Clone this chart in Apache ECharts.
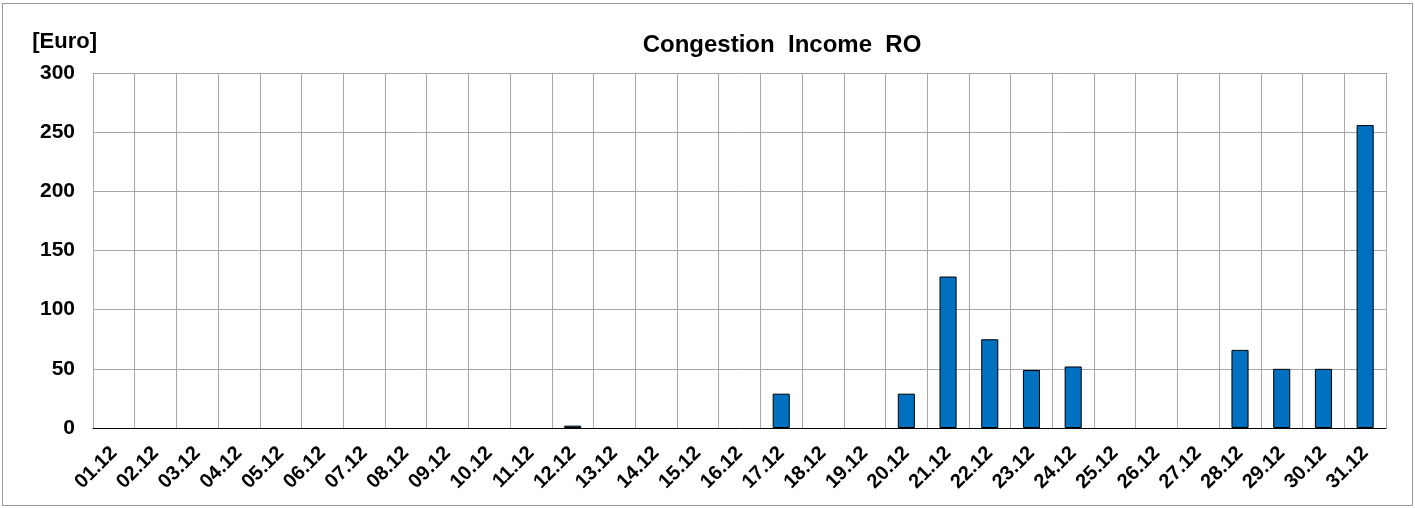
<!DOCTYPE html>
<html><head><meta charset="utf-8">
<script src="https://cdn.jsdelivr.net/npm/echarts@6/dist/echarts.min.js"></script>
<style>
html,body{margin:0;padding:0;background:#fff;}
#frame{position:absolute;left:2px;top:3px;width:1409px;height:501px;border:1px solid #9a9a9a;}
#c{position:absolute;left:0;top:0;width:1415px;height:508px;}
</style></head><body>
<div id="frame"></div>
<div id="c"></div>
<script>
const categories = ["01.12","02.12","03.12","04.12","05.12","06.12","07.12","08.12","09.12","10.12","11.12","12.12","13.12","14.12","15.12","16.12","17.12","18.12","19.12","20.12","21.12","22.12","23.12","24.12","25.12","26.12","27.12","28.12","29.12","30.12","31.12"];
const income = [0,0,0,0,0,0,0,0,0,0,0,2,0,0,0,0,29,0,0,29,128,75,49,52,0,0,0,66,50,50,256];
const yTicks = [0,50,100,150,200,250,300];

const chart = echarts.init(document.getElementById('c'), null, {renderer:'canvas'});
const font = 'Liberation Sans, Arial, sans-serif';
chart.setOption({
  animation:false,
  backgroundColor:'transparent',
  title:{text:'Congestion  Income  RO',left:777,top:28,textAlign:'center',
    textStyle:{fontFamily:font,fontSize:24,fontWeight:'bold',color:'#000'}},
  graphic:[{type:'text',right:1415-97,top:31,
    style:{text:'[Euro]',fontFamily:font,fontSize:22,fontWeight:'bold',fill:'#000'}}],
  grid:{left:93,right:29,top:73,bottom:80,containLabel:false},
  xAxis:{type:'category',data:categories,boundaryGap:true,
    axisLine:{show:true,lineStyle:{color:'#000',width:1}},
    axisTick:{show:false},
    splitLine:{show:true,interval:0,lineStyle:{color:'#a6a6a6',width:1}},
    axisLabel:{interval:0,rotate:45,margin:22,fontFamily:font,fontSize:20,fontWeight:'bold',color:'#000'}},
  yAxis:{type:'value',min:yTicks[0],max:yTicks[yTicks.length-1],interval:50,
    axisLine:{show:false},axisTick:{show:false},
    splitLine:{show:true,lineStyle:{color:'#a6a6a6',width:1}},
    axisLabel:{margin:18,fontFamily:font,fontSize:21,fontWeight:'bold',color:'#000'}},
  series:[{type:'bar',data:income.map(v => v === 0 ? null : v),barWidth:'41%',
    itemStyle:{color:'#0070C0',borderColor:'#000',borderWidth:1}}]
});
</script>
</body></html>
